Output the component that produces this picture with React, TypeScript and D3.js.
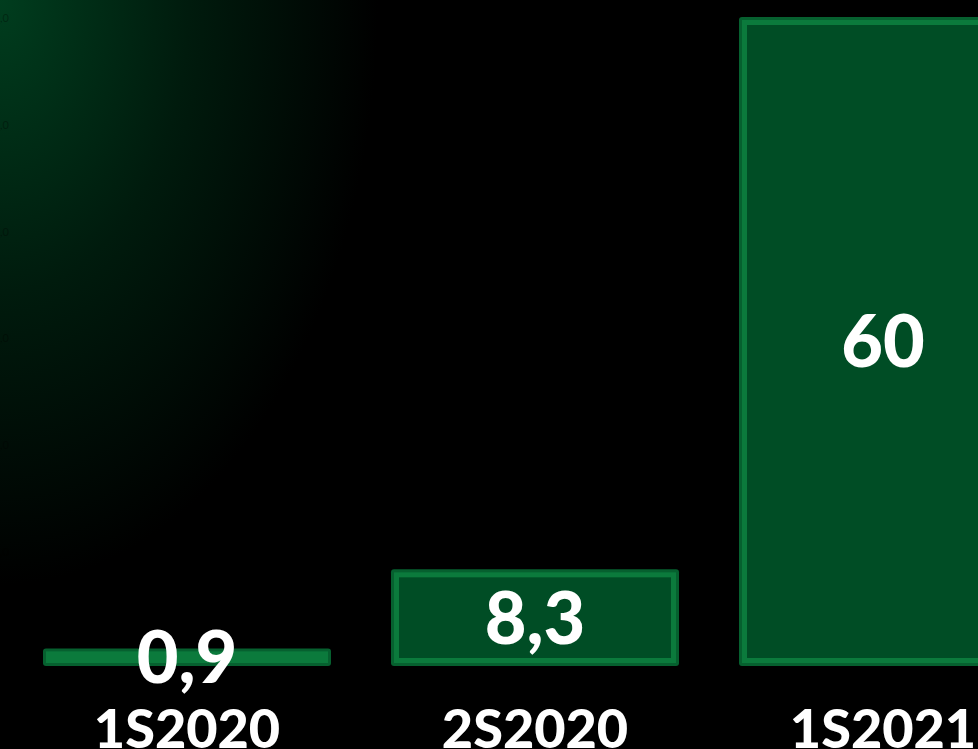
import React from "react";
import * as d3 from "d3";

const WIDTH = 978;
const HEIGHT = 749;

// chart data
const periods = ["1S2020", "2S2020", "1S2021"];
const values = [0.9, 8.3, 60];
const valueLabels = ["0,9", "8,3", "60"];
const tickValues = [0, 10, 20, 30, 40, 50, 60];

const BAR_OVERHANG = 8; // bars run a little below the zero line
const OUTER_BORDER = 3;
const INNER_BORDER = 5;

const FONT = "Lato, 'Open Sans', sans-serif";

export default function App() {
    const x = d3.scaleBand<string>()
        .domain(periods)
        .range([43, 1027])
        .paddingInner(60 / 348)
        .paddingOuter(0);

    const y = d3.scaleLinear().domain([0, 60]).range([658, 17]);
    const base = y(0) + BAR_OVERHANG;
    const fmt = (v: number) => d3.format(".1f")(v).replace(".", ",");

    return (
        <svg width={WIDTH} height={HEIGHT} style={{position: "fixed", left: 0, top: 0, display: "block"}}>
            <defs>
                <radialGradient id="glow" gradientUnits="userSpaceOnUse" cx={0} cy={0} r={1}
                                gradientTransform="scale(420,650)">
                    <stop offset="0" stopColor="#003d1e"/>
                    <stop offset="0.45" stopColor="#001b0d"/>
                    <stop offset="0.9" stopColor="#000000"/>
                    <stop offset="1" stopColor="#000000"/>
                </radialGradient>
            </defs>
            <rect width={WIDTH} height={HEIGHT} fill="#000"/>
            <rect width={WIDTH} height={HEIGHT} fill="url(#glow)"/>

            {/* faint axis labels, almost hidden at the left edge */}
            <g fontFamily={FONT} fontSize={11} fill="#000" fillOpacity={0.35} textAnchor="end">
                {tickValues.map(t => (
                    <text key={t} x={9} y={y(t)} dy="0.45em">{fmt(t)}</text>
                ))}
            </g>

            <g>
                {periods.map((p, i) => {
                    const x0 = x(p)!;
                    const w = x.bandwidth();
                    const top = y(values[i]);
                    const h = base - top;
                    const inset = OUTER_BORDER + INNER_BORDER;
                    return (
                        <g key={p}>
                            <rect x={x0} y={top} width={w} height={h} rx={3} fill="#06602f"/>
                            <rect x={x0 + OUTER_BORDER} y={top + OUTER_BORDER}
                                  width={w - 2 * OUTER_BORDER} height={h - 2 * OUTER_BORDER}
                                  fill="#0b7a3c"/>
                            {h > 2 * inset + 2 && (
                                <rect x={x0 + inset} y={top + inset}
                                      width={w - 2 * inset} height={h - 2 * inset}
                                      fill="#004d25"/>
                            )}
                        </g>
                    );
                })}
            </g>

            <g fontFamily={FONT} fontWeight={900} fill="#fff" textAnchor="middle">
                {periods.map((p, i) => (
                    <text key={p} x={x(p)! + x.bandwidth() / 2}
                          y={(y(values[i]) + base) / 2} dy="0.36em" fontSize={72}>
                        {valueLabels[i]}
                    </text>
                ))}
                {periods.map(p => (
                    <text key={p} x={x(p)! + x.bandwidth() / 2} y={748} fontSize={54}>
                        {p}
                    </text>
                ))}
            </g>
        </svg>
    );
}
